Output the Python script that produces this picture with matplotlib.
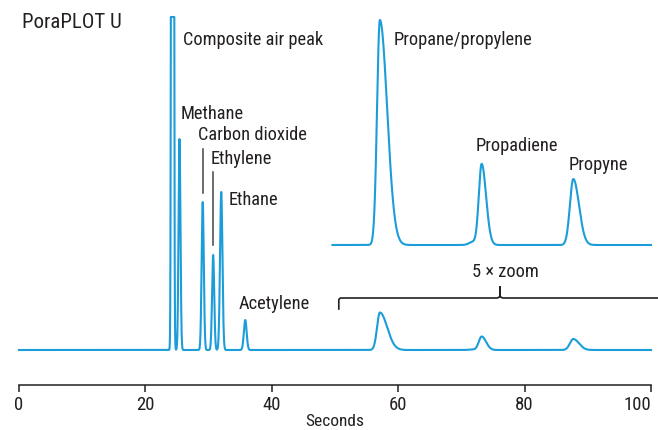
import numpy as np
import matplotlib
matplotlib.use("Agg")
import matplotlib.pyplot as plt

plt.rcParams['font.family'] = ['Roboto Condensed', 'Archivo Narrow', 'DejaVu Sans']

blue = "#1b9dd9"
ink = "#231f20"

# peaks: retention time (s), height, sigma left, sigma right
early_names = ["Composite air peak", "Methane", "Carbon dioxide", "Ethylene", "Ethane", "Acetylene"]
early_times = [24.3, 25.4, 29.07, 30.72, 32.0, 35.8]
early_heights = [5000, 211, 148, 95, 158, 30]
early_sig_l = [0.12, 0.15, 0.17, 0.17, 0.19, 0.22]
early_sig_r = [0.12, 0.15, 0.17, 0.17, 0.19, 0.22]

late_names = ["Propane/propylene", "", "Propadiene", "Propyne"]
late_times = [57.1, 71.8, 73.2, 87.7]
late_heights = [37.5, 0.5, 13.5, 11.0]
late_sig_l = [0.45, 0.6, 0.45, 0.54]
late_sig_r = [1.15, 0.6, 0.7, 0.9]

clip_level = 333   # top of the composite air peak is cut off
zoom_factor = 6.0  # drawn height of the inset
inset_offset = 105
inset_start = 49.6

ticks = [0, 20, 40, 60, 80, 100]


def peak(t, t0, h, sl, sr):
    s = np.where(t < t0, sl, sr)
    return h * np.exp(-0.5 * ((t - t0) / s) ** 2)


t = np.linspace(0, 100, 8000)
early = sum(peak(t, *p) for p in zip(early_times, early_heights, early_sig_l, early_sig_r))
late = sum(peak(t, *p) for p in zip(late_times, late_heights, late_sig_l, late_sig_r))
signal = np.minimum(early, clip_level) + late

fig = plt.figure(figsize=(6.58, 4.30), dpi=100)
ax = fig.add_axes([0, 0, 1, 1])
ax.set_xlim(-3.0, 101.1)
ax.set_ylim(-80, 350)

ax.plot(t, signal, color=blue, lw=1.5)

mask = t >= inset_start
ax.plot(t[mask], late[mask] * zoom_factor + inset_offset, color=blue, lw=1.5)

# axis
for side in ["top", "left", "right"]:
    ax.spines[side].set_visible(False)
ax.spines["bottom"].set_position(("data", -35))
ax.spines["bottom"].set_bounds(0, 100)
ax.spines["bottom"].set_color(ink)
ax.spines["bottom"].set_linewidth(1.1)
ax.set_xticks(ticks)
ax.set_xticklabels([str(v) for v in ticks])
ax.tick_params(axis="x", direction="out", length=5, width=1.1, color=ink,
               labelsize=13.5, labelcolor=ink, pad=3)
ax.get_xticklabels()[-1].set_ha("right")
ax.set_yticks([])
ax.text(50, -71, "Seconds", ha="center", va="center", fontsize=12.5, color=ink)

# labels
fs = 13.2
ax.text(0.47, 328, "PoraPLOT U", ha="left", va="center", fontsize=15, color=ink)
label_pos = {
    "Composite air peak": (25.95, 310),
    "Methane": (25.5, 236),
    "Carbon dioxide": (28.3, 215),
    "Ethylene": (30.4, 191),
    "Ethane": (33.1, 150),
    "Acetylene": (34.8, 46),
    "Propane/propylene": (59.2, 310),
    "Propadiene": (72.3, 204),
    "Propyne": (86.9, 185),
}
for name, (x, y) in label_pos.items():
    ax.text(x, y, name, ha="left", va="center", fontsize=fs, color=ink)

# leader lines
ax.plot([early_times[2], early_times[2]], [157, 201], color="#444444", lw=1.1)
ax.plot([early_times[3], early_times[3]], [105, 178], color="#444444", lw=1.1)

# zoom bracket
bx0, bmid, bx1 = 50.6, 76.1, 101.1
by = 52
ax.plot([bx0, bx0, bx0 + 0.25, bmid - 0.4, bmid, bmid, bmid, bmid + 0.4, bx1],
        [41, by - 1.5, by, by, by + 1.5, by + 11, by + 1.5, by, by],
        color=ink, lw=1.2, solid_joinstyle="round")
ax.text(76.9, 78, "5 × zoom", ha="center", va="center", fontsize=fs, color=ink)

fig.savefig("out.png", dpi=100)
